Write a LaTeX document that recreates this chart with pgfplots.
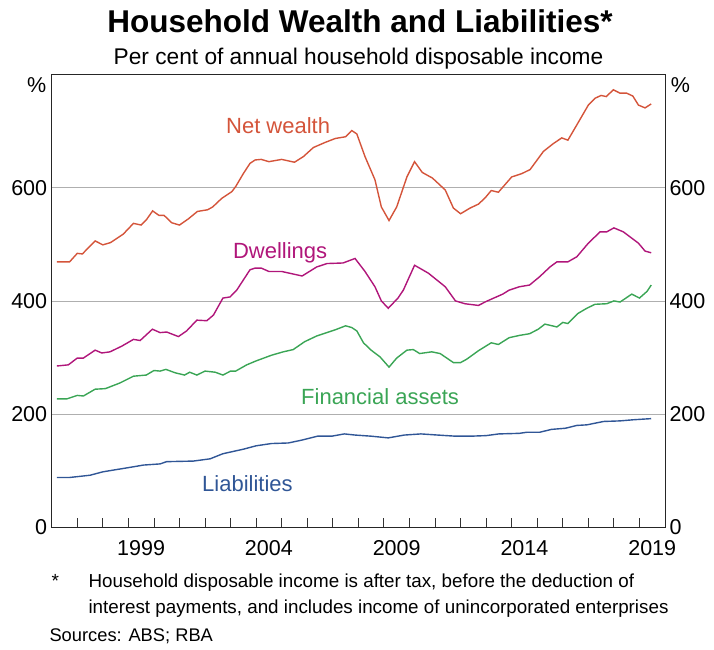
\documentclass[border=0pt]{standalone}
\usepackage{pgfplots}
\pgfplotsset{compat=1.18}
\usepackage{fontspec}
\setmainfont{Liberation Sans}
\definecolor{netc}{RGB}{212,84,58}
\definecolor{dwellc}{RGB}{176,22,122}
\definecolor{finc}{RGB}{58,165,85}
\definecolor{liabc}{RGB}{48,86,150}
\definecolor{gridc}{RGB}{175,175,175}
\begin{document}
\begin{tikzpicture}[x=1pt,y=1pt]
\useasboundingbox (0,0) rectangle (714,649);
\begin{axis}[
  at={(51.7pt,121.7pt)}, anchor=south west,
  scale only axis, width=613.3pt, height=452.8pt,
  xmin=1996, xmax=2020, ymin=0, ymax=800,
  axis line style={black!85, line width=0.9pt},
  xtick={1997,...,2019}, xticklabels={},
  xtick pos=left, tick align=inside,
  major tick length=9pt,
  tick style={black!80, line width=0.8pt},
  extra x ticks={1999.5,2004.5,2009.5,2014.5,2019.5},
  extra x tick labels={1999,2004,2009,2014,2019},
  extra x tick style={major tick length=0pt},
  ytick={0,200,400,600},
  ytick pos=left, ytick style={draw=none},
  ymajorgrids, grid style={gridc, line width=0.8pt},
  /pgf/number format/assume math mode=true,
  /pgf/number format/1000 sep={},
  ticklabel style={font=\fontsize{21.5}{24}\selectfont},
  xticklabel style={yshift=-10pt},
  yticklabel style={xshift=-1pt},
  clip=false,
]
\addplot[netc, line width=1.4pt] coordinates {
(1996.2,469)(1996.7,469)(1997.0,484)(1997.2,483)(1997.7,506)(1998.0,499)(1998.3,503)(1998.8,518)(1999.2,537)(1999.5,534)(1999.7,543)(1999.95,559)(2000.2,551)(2000.4,551)(2000.7,538)(2001.0,534)(2001.35,545)(2001.7,558)(2002.1,561)(2002.3,566)(2002.65,581)(2003.05,593)(2003.2,602)(2003.5,625)(2003.76,643)(2003.96,649)(2004.2,650)(2004.5,646)(2005.0,650)(2005.5,645)(2005.85,655)(2006.24,671)(2006.7,680)(2007.1,687)(2007.5,690)(2007.74,701)(2007.94,695)(2008.26,655)(2008.65,614)(2008.9,566)(2009.2,542)(2009.5,566)(2009.9,619)(2010.2,646)(2010.5,627)(2010.9,617)(2011.4,596)(2011.72,564)(2012.0,554)(2012.37,564)(2012.7,571)(2012.96,582)(2013.2,595)(2013.48,592)(2014.0,619)(2014.4,625)(2014.72,632)(2015.24,664)(2015.63,678)(2015.96,688)(2016.2,684)(2016.55,711)(2017.0,746)(2017.26,758)(2017.5,763)(2017.7,761)(2017.98,773)(2018.24,767)(2018.5,767)(2018.74,762)(2018.96,746)(2019.22,741)(2019.46,748)
};
\addplot[dwellc, line width=1.4pt] coordinates {
(1996.2,285)(1996.65,287)(1997.0,299)(1997.24,299)(1997.7,313)(1997.96,308)(1998.28,310)(1998.74,320)(1999.2,332)(1999.46,330)(1999.94,350)(2000.24,344)(2000.5,345)(2000.96,337)(2001.28,347)(2001.68,366)(2002.07,365)(2002.33,375)(2002.7,405)(2002.98,407)(2003.24,419)(2003.76,455)(2003.96,458)(2004.2,458)(2004.5,452)(2005.0,452)(2005.8,444)(2006.37,460)(2006.77,466)(2007.4,467)(2007.87,475)(2008.26,452)(2008.65,425)(2008.9,400)(2009.17,387)(2009.55,405)(2009.76,419)(2010.2,463)(2010.74,449)(2011.4,425)(2011.8,400)(2012.17,395)(2012.7,392)(2013.0,399)(2013.3,405)(2013.65,412)(2013.9,419)(2014.3,425)(2014.7,428)(2015.1,443)(2015.5,460)(2015.77,469)(2016.2,469)(2016.55,478)(2017.0,502)(2017.46,522)(2017.72,522)(2018.0,529)(2018.37,522)(2018.96,502)(2019.22,488)(2019.46,485)
};
\addplot[finc, line width=1.4pt] coordinates {
(1996.2,227)(1996.6,227)(1997.0,233)(1997.24,232)(1997.7,244)(1998.1,245)(1998.67,255)(1999.2,267)(1999.7,269)(2000.0,277)(2000.24,276)(2000.47,279)(2000.83,273)(2001.2,269)(2001.4,274)(2001.68,269)(2002.0,276)(2002.4,274)(2002.7,269)(2003.0,276)(2003.2,276)(2003.63,287)(2004.0,294)(2004.6,304)(2005.06,310)(2005.45,314)(2005.9,328)(2006.37,338)(2006.7,343)(2007.1,349)(2007.5,356)(2007.74,353)(2007.94,347)(2008.2,326)(2008.5,313)(2008.85,301)(2009.2,283)(2009.5,299)(2009.9,313)(2010.15,314)(2010.4,307)(2010.87,310)(2011.2,307)(2011.72,291)(2012.0,291)(2012.24,297)(2012.7,312)(2013.2,326)(2013.48,323)(2013.9,335)(2014.3,339)(2014.7,342)(2015.04,350)(2015.3,359)(2015.77,354)(2016.0,362)(2016.2,360)(2016.6,378)(2016.94,387)(2017.26,394)(2017.72,395)(2018.0,400)(2018.24,398)(2018.7,412)(2019.0,405)(2019.3,417)(2019.46,428)
};
\addplot[liabc, line width=1.4pt] coordinates {
(1996.2,88)(1996.7,88)(1997.5,92)(1998.0,98)(1998.94,105)(1999.6,110)(2000.24,112)(2000.5,116)(2001.54,117)(2002.2,121)(2002.7,130)(2003.5,138)(2004.0,144)(2004.6,148)(2005.26,149)(2005.78,154)(2006.4,161)(2006.96,161)(2007.45,165)(2007.87,163)(2008.5,161)(2009.17,158)(2009.8,163)(2010.45,165)(2011.1,163)(2011.8,161)(2012.4,161)(2013.0,162)(2013.5,165)(2014.3,166)(2014.6,168)(2015.1,168)(2015.56,173)(2016.1,175)(2016.55,180)(2016.94,181)(2017.6,187)(2018.24,188)(2018.76,190)(2019.46,192)
};
\node[text=netc, font=\fontsize{22}{26}\selectfont] at (axis cs:2004.86,709) {Net wealth};
\node[text=dwellc, font=\fontsize{22}{26}\selectfont] at (axis cs:2004.94,485) {Dwellings};
\node[text=finc, font=\fontsize{22}{26}\selectfont] at (axis cs:2008.85,230) {Financial assets};
\node[text=liabc, font=\fontsize{22}{26}\selectfont] at (axis cs:2003.66,77) {Liabilities};
\node[font=\fontsize{21.5}{24}\selectfont] at (axis cs:1995.41,782) {\%};
\node[font=\fontsize{21.5}{24}\selectfont] at (axis cs:2020.6,782) {\%};
\end{axis}
\begin{axis}[
  at={(51.7pt,121.7pt)}, anchor=south west,
  scale only axis, width=613.3pt, height=452.8pt,
  xmin=1996, xmax=2020, ymin=0, ymax=800,
  axis line style={draw=none},
  xtick=\empty,
  ytick={0,200,400,600},
  ytick pos=right, yticklabel pos=right, ytick style={draw=none},
  /pgf/number format/assume math mode=true,
  ticklabel style={font=\fontsize{21.5}{24}\selectfont},
  yticklabel style={xshift=1pt},
]
\addplot[draw=none] coordinates {(2000,100)};
\end{axis}
\node[anchor=base, font=\fontsize{31.5}{36}\selectfont\bfseries] at (360,616) {Household Wealth and Liabilities*};
\node[anchor=base, font=\fontsize{22.7}{26}\selectfont] at (358.5,584) {Per cent of annual household disposable income};
\node[anchor=base west, font=\fontsize{19}{22}\selectfont] at (48,62) {*};
\node[anchor=base west, font=\fontsize{18.8}{22}\selectfont, align=left] at (85,62) {Household disposable income is after tax, before the deduction of};
\node[anchor=base west, font=\fontsize{18.8}{22}\selectfont, align=left] at (85,36) {interest payments, and includes income of unincorporated enterprises};
\node[anchor=base west, font=\fontsize{18.3}{22}\selectfont] at (46,8) {Sources: ABS; RBA};
\end{tikzpicture}
\end{document}
